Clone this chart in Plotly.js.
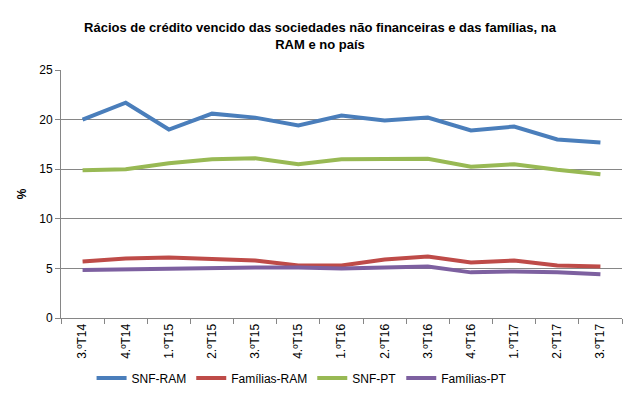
<!DOCTYPE html>
<html>
<head>
<meta charset="utf-8">
<script src="https://cdn.plot.ly/plotly-3.0.1.min.js"></script>
<style>html,body{margin:0;padding:0;background:#fff}#chart{width:640px;height:411px}</style>
</head>
<body>
<div id="chart"></div>
<script>
var categories = ["3.ºT14","4.ºT14","1.ºT15","2.ºT15","3.ºT15","4.ºT15","1.ºT16","2.ºT16","3.ºT16","4.ºT16","1.ºT17","2.ºT17","3.ºT17"];
var snfRAM = [20.0, 21.7, 19.0, 20.6, 20.2, 19.4, 20.4, 19.9, 20.2, 18.9, 19.3, 18.0, 17.7];
var familiasRAM = [5.7, 6.0, 6.1, 6.0, 5.8, 5.3, 5.3, 5.9, 6.2, 5.6, 5.8, 5.3, 5.2];
var snfPT = [14.9, 15.0, 15.6, 16.0, 16.1, 15.5, 16.0, 16.0, 16.05, 15.25, 15.5, 14.95, 14.5];
var familiasPT = [4.85, 4.9, 5.0, 5.1, 5.1, 5.1, 5.0, 5.1, 5.2, 4.6, 4.7, 4.6, 4.4];
var seriesNames = ["SNF-RAM", "Famílias-RAM", "SNF-PT", "Famílias-PT"];
var colors = ["#4A7EBB", "#BE4B48", "#98B954", "#7D60A0"];
var values = [snfRAM, familiasRAM, snfPT, familiasPT];

var traces = values.map(function(v, i){
  return {x: categories, y: v, name: seriesNames[i], type: "scatter", mode: "lines",
          line: {color: colors[i], width: 4}};
});

var layout = {
  width: 640, height: 411,
  margin: {l: 61, r: 18, t: 70, b: 93},
  paper_bgcolor: "#fff", plot_bgcolor: "#fff",
  font: {family: "Arial", size: 12, color: "#000"},
  title: {text: "<b>Rácios de crédito vencido das sociedades não financeiras e das famílias, na<br>RAM e no país</b>",
          font: {family: "Arial", size: 13, color: "#000"}, x: 0.5, xanchor: "center", y: 0.923, yanchor: "top"},
  xaxis: {type: "category", tickangle: -90, tickson: "boundaries", ticks: "outside", ticklen: 5,
          tickcolor: "#868686", showline: true, linecolor: "#868686", showgrid: false,
          tickfont: {size: 12}, range: [-0.5, 12.5], automargin: false},
  yaxis: {range: [0, 25], dtick: 5, ticks: "outside", ticklen: 5, tickcolor: "#868686",
          showline: true, linecolor: "#868686", gridcolor: "#868686", gridwidth: 1,
          zeroline: false, tickfont: {size: 12}, automargin: false,
          title: {text: "<b>%</b>", font: {size: 12}, standoff: 10}},
  legend: {orientation: "h", x: 0.472, xanchor: "center", xref: "container", y: 0.08, yanchor: "middle", yref: "container",
           font: {size: 12}, traceorder: "normal"},
  showlegend: true
};

Plotly.newPlot("chart", traces, layout, {displayModeBar: false, staticPlot: true});
</script>
</body>
</html>
